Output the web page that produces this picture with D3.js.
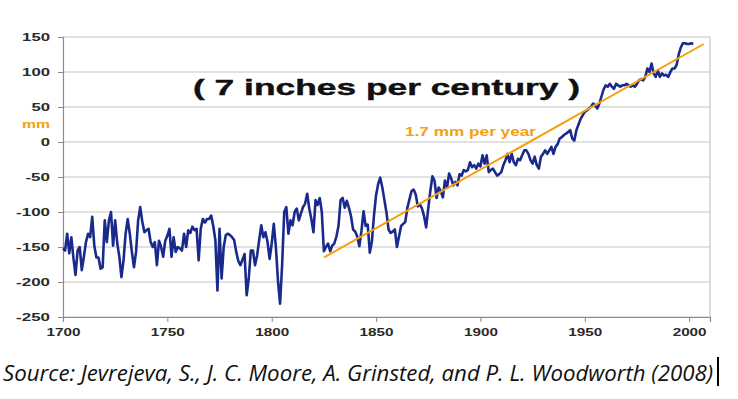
<!DOCTYPE html>
<html>
<head>
<meta charset="utf-8">
<script src="https://cdn.jsdelivr.net/npm/d3@7"></script>
<style>
  body { margin: 0; background: #fff; }
  svg { display: block; }
</style>
</head>
<body>
<div id="chart"></div>
<script>
// Sea level (mm), one value per year starting in 1700
const startYear = 1700;
const seaLevel = [
  -152, -155, -131, -159, -136, -166, -190, -155, -150, -183,
  -164, -143, -131, -136, -107, -148, -165, -165, -181, -179,
  -112, -143, -112, -100, -148, -112, -145, -164, -193, -169,
  -131, -110, -131, -157, -179, -157, -112, -93, -114, -129,
  -126, -124, -143, -150, -143, -176, -141, -150, -164, -141,
  -134, -124, -164, -136, -157, -150, -152, -155, -131, -150,
  -126, -130, -121, -126, -124, -169, -124, -110, -115, -110,
  -110, -105, -120, -140, -212, -124, -195, -150, -133, -131,
  -133, -136, -140, -157, -170, -176, -168, -160, -219, -195,
  -155, -155, -176, -162, -140, -119, -136, -129, -143, -167,
  -145, -117, -150, -198, -231, -175, -100, -93, -131, -112,
  -119, -100, -95, -112, -102, -93, -88, -74, -95, -110,
  -129, -83, -90, -80, -100, -156, -150, -145, -156, -148,
  -145, -135, -120, -83, -80, -94, -84, -94, -106, -125,
  -128, -135, -149, -127, -99, -120, -118, -158, -142, -105,
  -76, -60, -51, -65, -83, -101, -125, -130, -128, -125,
  -150, -135, -120, -117, -114, -94, -82, -70, -68, -75,
  -92, -89, -95, -106, -122, -95, -70, -49, -55, -80,
  -65, -70, -79, -55, -65, -45, -52, -62, -57, -62,
  -46, -48, -40, -42, -40, -29, -36, -33, -38, -31,
  -35, -19, -31, -19, -43, -40, -38, -43, -48, -46,
  -43, -33, -26, -17, -29, -17, -29, -33, -24, -26,
  -19, -12, -12, -17, -26, -31, -21, -33, -38, -21,
  -17, -12, -17, -12, -7, -17, -7, -3, 5, 7,
  10, 12, 14, 17, 5, 2, 17, 25, 33, 38,
  43, 45, 48, 50, 55, 52, 48, 55, 65, 75,
  81, 79, 83, 79, 76, 83, 81, 79, 81, 81,
  83, 81, 79, 81, 79, 83, 88, 90, 88, 93,
  105, 100, 112, 98, 93, 102, 93, 98, 95, 96,
  93, 100, 105, 105, 110, 125, 135, 141, 141, 140,
  140, 141, 140
];

// 1.7 mm per year trend line end points
const trendYears = [1825, 2007];
const trendValues = [-165, 140];

const xTicks = [1700, 1750, 1800, 1850, 1900, 1950, 2000];
const yTicks = [150, 100, 50, 0, -50, -100, -150, -200, -250];

const data = seaLevel.map((v, i) => ({ year: startYear + i, value: v }));
const trend = trendYears.map((yr, i) => ({ year: yr, value: trendValues[i] }));

const width = 738, height = 399;
const plot = { left: 63, right: 710, top: 37, bottom: 317 };

const svg = d3.select("#chart")
  .append("svg")
    .attr("width", width)
    .attr("height", height);

const x = d3.scaleLinear()
  .domain([1700, 2010])
  .range([plot.left, plot.right]);

const y = d3.scaleLinear()
  .domain([-250, 150])
  .range([plot.bottom, plot.top]);

// gridlines
svg.append("g")
  .selectAll("line")
  .data(yTicks)
  .enter()
  .append("line")
    .attr("x1", plot.left)
    .attr("x2", plot.right)
    .attr("y1", d => y(d))
    .attr("y2", d => y(d))
    .attr("stroke", "#c4c4c4")
    .attr("stroke-width", 1.2);

// right border
svg.append("line")
  .attr("x1", plot.right).attr("x2", plot.right)
  .attr("y1", plot.top).attr("y2", plot.bottom)
  .attr("stroke", "#c4c4c4")
  .attr("stroke-width", 1.2);

const labelFont = "'Liberation Sans', Arial, sans-serif";

// Y axis (plain hyphen for minus, like the original)
const yAxis = svg.append("g")
  .attr("transform", `translate(${plot.left},0)`)
  .call(d3.axisLeft(y).tickValues(yTicks).tickSize(5).tickPadding(8).tickFormat(d => String(d)));
yAxis.select(".domain").attr("stroke", "#8a8a8a").attr("stroke-width", 1.2);
yAxis.selectAll(".tick line").attr("stroke", "#8a8a8a");
yAxis.selectAll("text")
  .attr("font-family", labelFont)
  .attr("font-weight", "bold")
  .attr("font-size", 11.5)
  .attr("fill", "#2a2a2a")
  .attr("lengthAdjust", "spacingAndGlyphs")
  .attr("textLength", d => String(Math.abs(d)).length * 9.3 + (d < 0 ? 6 : 0));

// X axis
const xAxis = svg.append("g")
  .attr("transform", `translate(0,${plot.bottom})`)
  .call(d3.axisBottom(x).tickValues(xTicks).tickSize(5).tickPadding(6).tickFormat(d3.format("d")));
xAxis.select(".domain").attr("stroke", "#8a8a8a").attr("stroke-width", 1.2);
xAxis.selectAll(".tick line").attr("stroke", "#8a8a8a");
xAxis.selectAll("text")
  .attr("font-family", labelFont)
  .attr("font-weight", "bold")
  .attr("font-size", 11.5)
  .attr("fill", "#2a2a2a")
  .attr("lengthAdjust", "spacingAndGlyphs")
  .attr("textLength", 34);

// sea level series
const line = d3.line()
  .x(d => x(d.year))
  .y(d => y(d.value));

svg.append("path")
  .datum(data)
  .attr("fill", "none")
  .attr("stroke", "#1a2a8c")
  .attr("stroke-width", 2.6)
  .attr("stroke-linejoin", "round")
  .attr("d", line);

// trend line
svg.append("path")
  .datum(trend)
  .attr("fill", "none")
  .attr("stroke", "#f5a011")
  .attr("stroke-width", 2)
  .attr("d", line);

// texts
svg.append("text")
  .attr("x", 193)
  .attr("y", 95)
  .attr("font-family", labelFont)
  .attr("font-weight", "bold")
  .attr("font-size", 22)
  .attr("fill", "#111")
  .attr("stroke", "#111")
  .attr("stroke-width", 0.4)
  .attr("lengthAdjust", "spacingAndGlyphs")
  .attr("textLength", 387)
  .text("( 7 inches per century )");

svg.append("text")
  .attr("x", 405)
  .attr("y", 136)
  .attr("font-family", labelFont)
  .attr("font-weight", "bold")
  .attr("font-size", 12)
  .attr("fill", "#f5a011")
  .attr("lengthAdjust", "spacingAndGlyphs")
  .attr("textLength", 131)
  .text("1.7 mm per year");

svg.append("text")
  .attr("x", 22)
  .attr("y", 128)
  .attr("font-family", labelFont)
  .attr("font-weight", "bold")
  .attr("font-size", 10)
  .attr("fill", "#f5a011")
  .attr("lengthAdjust", "spacingAndGlyphs")
  .attr("textLength", 28)
  .text("mm");

svg.append("text")
  .attr("x", 3)
  .attr("y", 381)
  .attr("font-family", "'Open Sans', sans-serif")
  .attr("font-style", "italic")
  .attr("font-size", 21)
  .attr("fill", "#111")
  .attr("lengthAdjust", "spacingAndGlyphs")
  .attr("textLength", 710)
  .text("Source:  Jevrejeva, S., J. C. Moore, A. Grinsted, and P. L. Woodworth (2008)");

// text cursor mark after the source line
svg.append("line")
  .attr("x1", 718).attr("x2", 718)
  .attr("y1", 357).attr("y2", 386)
  .attr("stroke", "#000")
  .attr("stroke-width", 2);
</script>
</body>
</html>
